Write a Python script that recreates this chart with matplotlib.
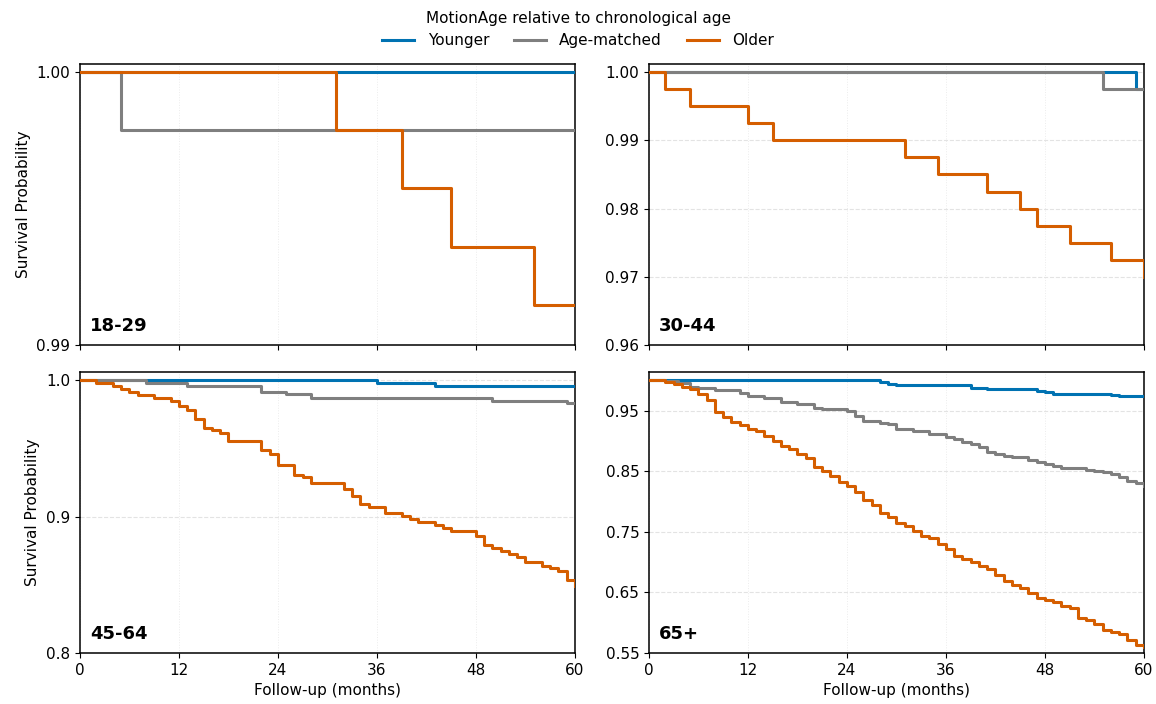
import numpy as np
import matplotlib
matplotlib.use("Agg")
import matplotlib.pyplot as plt
from matplotlib.lines import Line2D

# Groups and colours
groups = ["Younger", "Age-matched", "Older"]
colors = ["#0072B2", "#7F7F7F", "#D55E00"]
age_bands = ["18-29", "30-44", "45-64", "65+"]

# Kaplan-Meier curves: drop times (months) and survival after each drop
# 18-29
t_18_young = [0, 60]
s_18_young = [1.0, 1.0]
t_18_match = [0, 5, 60]
s_18_match = [1.0, 0.99787, 0.99787]
t_18_old = [0, 31, 39, 45, 55, 60]
s_18_old = [1.0, 0.99787, 0.99574, 0.99361, 0.99148, 0.99148]

# 30-44
t_30_young = [0, 59, 60]
s_30_young = [1.0, 0.9975, 0.9975]
t_30_match = [0, 55, 60]
s_30_match = [1.0, 0.9975, 0.9975]
t_30_old = [0, 2, 5, 12, 15, 31, 35, 41, 45, 47, 51, 56, 60]
s_30_old = [1.0, 0.9975, 0.995, 0.9925, 0.99, 0.9875, 0.985, 0.9825, 0.98,
            0.9775, 0.975, 0.9725, 0.970]

# 45-64
t_45_young = [0, 36, 43, 60]
s_45_young = [1.0, 0.998, 0.9958, 0.9958]
t_45_match = [0, 8, 13, 22, 25, 28, 50, 59, 60]
s_45_match = [1.0, 0.9978, 0.9959, 0.9917, 0.9898, 0.9873, 0.9849, 0.983, 0.983]
t_45_old = [0, 2, 4, 5, 6, 7, 9, 11, 12, 13, 14, 15, 16, 17, 18, 22, 23, 24, 26, 27,
            28, 32, 33, 34, 35, 37, 39, 40, 41, 43, 44, 45, 48, 49, 50, 51, 52, 53,
            54, 56, 57, 58, 59, 60]
s_45_old = [1.0, 0.9981, 0.9961, 0.9937, 0.9915, 0.9892, 0.9873, 0.9849, 0.9809,
            0.9784, 0.9718, 0.9652, 0.9632, 0.9615, 0.9551, 0.9485, 0.9461, 0.9375,
            0.9306, 0.9287, 0.9243, 0.9203, 0.9154, 0.9093, 0.9074, 0.9027, 0.9005,
            0.8983, 0.8961, 0.8941, 0.8919, 0.8897, 0.8855, 0.8792, 0.8770, 0.8748,
            0.8725, 0.8701, 0.8664, 0.8640, 0.8620, 0.8598, 0.8534, 0.849]

# 65+
t_65_young = [0, 28, 29, 30, 39, 41, 47, 48, 49, 56, 57, 60]
s_65_young = [1.0, 0.9973, 0.9945, 0.9923, 0.9879, 0.9852, 0.9825, 0.980, 0.978,
              0.9755, 0.9734, 0.9734]
t_65_match = [0, 2, 3.5, 5, 6, 8, 11, 12, 14, 16, 18, 20, 21, 24, 25, 26, 28, 29, 30,
              32, 34, 36, 37, 38, 39, 40, 41, 42, 43, 44, 46, 47, 48, 49, 50, 53, 54,
              55, 56, 57, 58, 59, 60]
s_65_match = [1.0, 0.999, 0.995, 0.9896, 0.9868, 0.9841, 0.9786, 0.9736, 0.9703,
              0.9648, 0.9604, 0.9549, 0.9522, 0.9484, 0.9412, 0.933, 0.929, 0.927,
              0.9195, 0.9157, 0.912, 0.9071, 0.903, 0.8975, 0.894, 0.8905, 0.882,
              0.878, 0.8755, 0.8728, 0.8687, 0.8643, 0.861, 0.8577, 0.8552, 0.8527,
              0.851, 0.848, 0.845, 0.840, 0.8335, 0.8308, 0.8255]
t_65_old = [0, 2, 3, 4, 5, 6, 7, 8, 9, 10, 11, 12, 13, 14, 15, 16, 17, 18, 19, 20, 21,
            22, 23, 24, 25, 26, 27, 28, 29, 30, 31, 32, 33, 34, 35, 36, 37, 38, 39, 40,
            41, 42, 43, 44, 45, 46, 47, 48, 49, 50, 51, 52, 53, 54, 55, 56, 57, 58,
            59, 60]
s_65_old = [1.0, 0.9978, 0.9937, 0.9882, 0.9849, 0.9767, 0.9673, 0.9478, 0.9388,
            0.9305, 0.9255, 0.9195, 0.916, 0.908, 0.8998, 0.892, 0.8857, 0.8791,
            0.8709, 0.8568, 0.85, 0.8412, 0.8319, 0.8247, 0.8154, 0.8027, 0.7945,
            0.7815, 0.774, 0.765, 0.759, 0.752, 0.7432, 0.7396, 0.73, 0.722, 0.7099,
            0.7044, 0.700, 0.6934, 0.6879, 0.678, 0.6687, 0.6626, 0.6577, 0.6495,
            0.6407, 0.6368, 0.6341, 0.6269, 0.6242, 0.6077, 0.6038, 0.5984, 0.5874,
            0.5846, 0.5808, 0.5709, 0.5637, 0.560]

curves = [
    [(t_18_young, s_18_young), (t_18_match, s_18_match), (t_18_old, s_18_old)],
    [(t_30_young, s_30_young), (t_30_match, s_30_match), (t_30_old, s_30_old)],
    [(t_45_young, s_45_young), (t_45_match, s_45_match), (t_45_old, s_45_old)],
    [(t_65_young, s_65_young), (t_65_match, s_65_match), (t_65_old, s_65_old)],
]

# y axis per panel
y_ticks = [
    [0.99, 1.00],
    [0.96, 0.97, 0.98, 0.99, 1.00],
    [0.8, 0.9, 1.0],
    [0.55, 0.65, 0.75, 0.85, 0.95],
]
y_fmt = ["%.2f", "%.2f", "%.1f", "%.2f"]
y_low = [0.99, 0.96, 0.8, 0.55]
x_ticks = [0, 12, 24, 36, 48, 60]

plt.rcParams["font.size"] = 11

fig, axes = plt.subplots(2, 2, figsize=(11.56, 7.04), dpi=100, sharex=True)
fig.subplots_adjust(left=0.0692, right=0.9896, top=0.9091, bottom=0.0724,
                    wspace=0.1495, hspace=0.0961)

for i, ax in enumerate(axes.flat):
    for (t, s), c in zip(curves[i], colors):
        # lines above the spines so the last drop at 60 months stays visible
        ax.step(t, s, where="post", color=c, lw=2.2, zorder=3)

    lo = y_low[i]
    ax.set_ylim(lo, 1.0 + 0.03 * (1.0 - lo))
    ax.set_xlim(0, 60)
    ax.set_xticks(x_ticks)
    ax.set_yticks(y_ticks[i])
    ax.yaxis.set_major_formatter(matplotlib.ticker.FormatStrFormatter(y_fmt[i]))

    ax.yaxis.grid(True, ls="--", lw=0.8, color="#e3e3e3")
    ax.xaxis.grid(True, ls=":", lw=0.7, color="#ececec")
    ax.set_axisbelow(True)
    for sp in ax.spines.values():
        sp.set_linewidth(1.1)

    ax.text(0.02, 0.035, age_bands[i], transform=ax.transAxes,
            fontsize=13, fontweight="bold", ha="left", va="bottom")

    if i % 2 == 0:
        ax.set_ylabel("Survival Probability")
    if i >= 2:
        ax.set_xlabel("Follow-up (months)")

handles = [Line2D([], [], color=c, lw=2.2) for c in colors]
fig.legend(handles, groups, loc="upper center", bbox_to_anchor=(0.5, 1.0),
           ncol=3, frameon=False, title="MotionAge relative to chronological age",
           fontsize=11, title_fontsize=11, handlelength=2.1, columnspacing=1.6,
           handletextpad=0.9, borderaxespad=0.3)

fig.savefig("out.png", dpi=100)
